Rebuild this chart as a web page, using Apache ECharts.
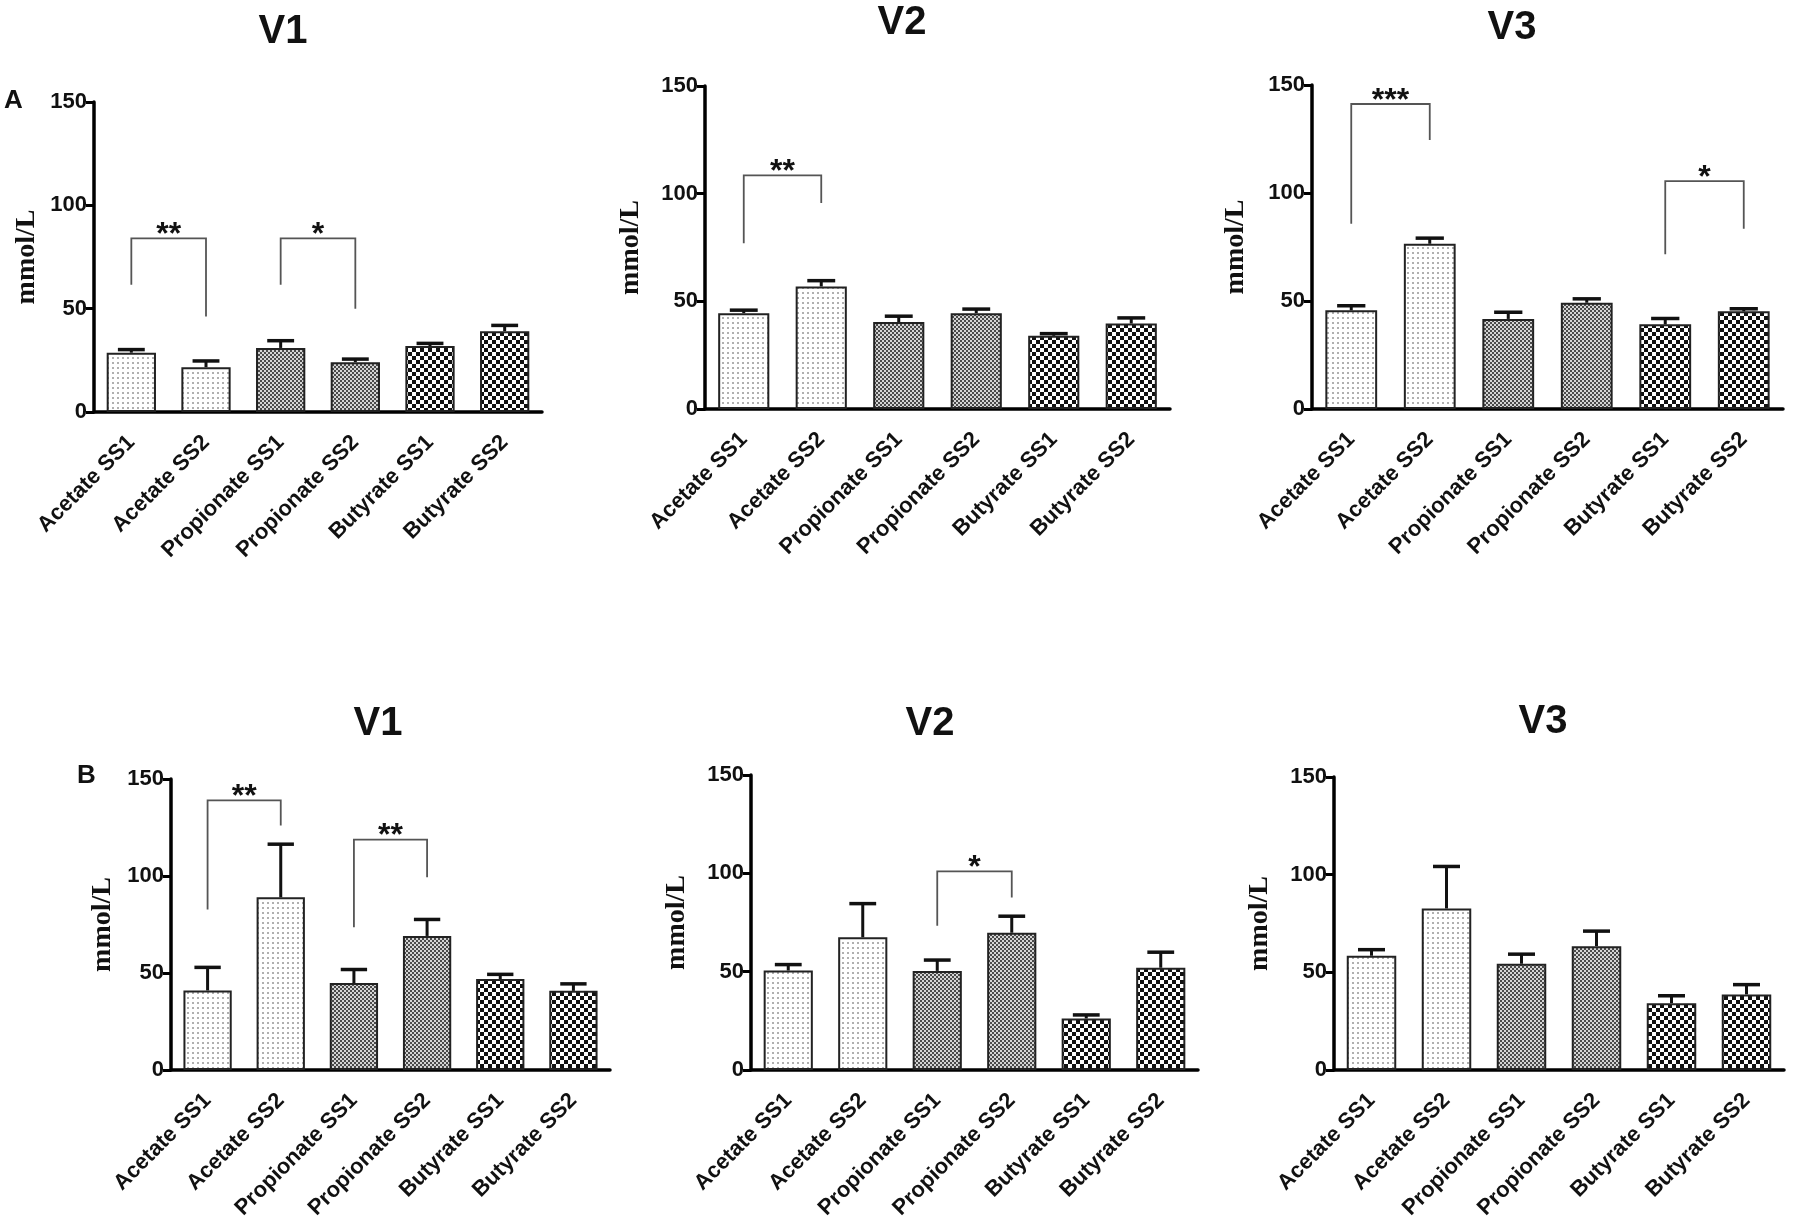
<!DOCTYPE html>
<html>
<head>
<meta charset="utf-8">
<title>SCFA V1-V3</title>
<script src="https://cdn.jsdelivr.net/npm/echarts@6.0.0/dist/echarts.min.js"></script>
<style>
html, body { margin: 0; padding: 0; background: #fff; }
#chart { width: 1800px; height: 1229px; }
</style>
</head>
<body>
<div id="chart"></div>
<script>
var categories = ['Acetate SS1', 'Acetate SS2', 'Propionate SS1', 'Propionate SS2', 'Butyrate SS1', 'Butyrate SS2']
var panelTitles = ['V1', 'V2', 'V3', 'V1', 'V2', 'V3']
var rowLetters = ['A', 'B']
var yMin = 0
var yMax = 150
var yStep = 50

// means (mmol/L) and SEM
var aV1Mean = [28.7, 21.7, 31.0, 24.1, 31.9, 39.1]
var aV1Sem = [1.5, 3.0, 3.5, 1.5, 1.3, 2.8]
var aV2Mean = [44.5, 56.9, 40.4, 44.5, 34.0, 39.7]
var aV2Sem = [1.4, 2.7, 2.7, 1.9, 1.0, 2.6]
var aV3Mean = [45.7, 76.5, 41.7, 49.2, 39.2, 45.2]
var aV3Sem = [2.1, 2.6, 3.1, 1.8, 2.7, 1.2]
var bV1Mean = [41.0, 89.0, 44.8, 69.1, 46.9, 40.8]
var bV1Sem = [11.9, 27.4, 7.0, 8.5, 2.4, 3.6]
var bV2Mean = [50.6, 67.5, 50.4, 69.8, 26.2, 52.0]
var bV2Sem = [3.0, 17.1, 5.5, 8.4, 1.8, 7.9]
var bV3Mean = [58.5, 82.7, 54.4, 63.4, 34.2, 38.7]
var bV3Sem = [3.1, 21.5, 4.9, 7.7, 3.8, 5.0]

// significance brackets: [from, to, bracket top, left leg end, right leg end]
var aV1Sig = [[0, 1, 84, 61.6, 46.2], [2, 3, 84, 61.6, 50]]
var aV1Stars = ['**', '*']
var aV2Sig = [[0, 1, 108.5, 77, 95.7]]
var aV2Stars = ['**']
var aV3Sig = [[0, 1, 141.2, 85.8, 124.5], [4, 5, 105.5, 71.7, 83.5]]
var aV3Stars = ['***', '*']
var bV1Sig = [[0, 1, 139, 82.7, 126], [2, 3, 118.8, 73.6, 99.3]]
var bV1Stars = ['**', '**']
var bV2Sig = [[2, 3, 101, 73.4, 87.7]]
var bV2Stars = ['*']
var bV3Sig = []
var bV3Stars = []

var means = [aV1Mean, aV2Mean, aV3Mean, bV1Mean, bV2Mean, bV3Mean]
var sems = [aV1Sem, aV2Sem, aV3Sem, bV1Sem, bV2Sem, bV3Sem]
var sigs = [aV1Sig, aV2Sig, aV3Sig, bV1Sig, bV2Sig, bV3Sig]
var stars = [aV1Stars, aV2Stars, aV3Stars, bV1Stars, bV2Stars, bV3Stars]

// layout (px)
var grids = [
  {left: 94, top: 102, width: 448, height: 310},
  {left: 705, top: 86, width: 465, height: 323},
  {left: 1312, top: 85, width: 471, height: 324},
  {left: 171, top: 779, width: 439, height: 291},
  {left: 751, top: 775, width: 447, height: 295},
  {left: 1334, top: 777, width: 450, height: 293}
]
var nameGaps = [53, 60, 62, 54, 60, 60]
var titlePos = [[283, 32], [902, 23], [1512, 28], [378, 724], [930, 724], [1543, 722]]
var letterPos = [[4, 101], [77, 776]]

function makePattern(size, bg, fg, cells) {
  var c = document.createElement('canvas')
  c.width = size
  c.height = size
  var ctx = c.getContext('2d')
  ctx.fillStyle = bg
  ctx.fillRect(0, 0, size, size)
  ctx.fillStyle = fg
  cells.forEach(function (r) { ctx.fillRect(r[0], r[1], r[2], r[3]) })
  return {image: c, repeat: 'repeat'}
}
var acetateFill = makePattern(5, '#ffffff', '#b0b0b0', [[2, 2, 2, 2]])
var propionateFill = makePattern(4, '#d4d4d4', '#4a4a4a', [[0, 0, 2, 2], [2, 2, 2, 2]])
var butyrateFill = makePattern(8, '#ffffff', '#111111', [[0, 0, 4, 4], [4, 4, 4, 4]])
var fills = [acetateFill, acetateFill, propionateFill, propionateFill, butyrateFill, butyrateFill]

var axisColor = '#000'
var textColor = '#111'

function renderErr(params, api) {
  var x = api.value(0)
  var base = api.coord([x, api.value(1)])
  var top = api.coord([x, api.value(2)])
  var half = api.size([1, 0])[0] * 0.18
  return {
    type: 'group',
    children: [
      {type: 'line', shape: {x1: base[0], y1: base[1], x2: top[0], y2: top[1]}, style: {stroke: '#111', lineWidth: 3}},
      {type: 'line', shape: {x1: top[0] - half, y1: top[1], x2: top[0] + half, y2: top[1]}, style: {stroke: '#111', lineWidth: 3.5}}
    ]
  }
}

function sigRenderer(labels) {
  return function (params, api) {
    var i1 = api.value(0)
    var i2 = api.value(1)
    var t1 = api.coord([i1, api.value(2)])
    var t2 = api.coord([i2, api.value(2)])
    var l = api.coord([i1, api.value(3)])
    var r = api.coord([i2, api.value(4)])
    return {
      type: 'group',
      children: [
        {type: 'polyline', shape: {points: [l, t1, t2, r]}, style: {stroke: '#555', lineWidth: 1.8, fill: 'none'}},
        {type: 'text', x: (t1[0] + t2[0]) / 2, y: t1[1] - 3, style: {
          text: labels[params.dataIndex], fill: '#111',
          fontSize: 32, fontWeight: 'bold', fontFamily: 'Liberation Sans',
          align: 'center', verticalAlign: 'middle', textAlign: 'center', textVerticalAlign: 'middle'
        }}
      ]
    }
  }
}

var option = {
  animation: false,
  backgroundColor: '#fff',
  grid: [],
  xAxis: [],
  yAxis: [],
  series: [],
  graphic: []
}

for (var p = 0; p < 6; p++) {
  option.grid.push(grids[p])
  option.xAxis.push({
    type: 'category',
    gridIndex: p,
    data: categories,
    axisLine: {lineStyle: {color: axisColor, width: 3.5}},
    axisTick: {alignWithLabel: true, length: 9, lineStyle: {color: axisColor, width: 3}},
    axisLabel: {interval: 0, rotate: 45, margin: 27, color: textColor, fontWeight: 'bold', fontSize: 22, fontFamily: 'Liberation Sans'},
    splitLine: {show: false}
  })
  option.yAxis.push({
    type: 'value',
    gridIndex: p,
    min: yMin,
    max: yMax,
    interval: yStep,
    name: 'mmol/L',
    nameLocation: 'middle',
    nameGap: nameGaps[p],
    nameTextStyle: {fontFamily: 'Liberation Serif', fontWeight: 'bold', fontSize: 28, color: textColor},
    axisLine: {show: true, lineStyle: {color: axisColor, width: 3.5}},
    axisTick: {show: true, length: 8, lineStyle: {color: axisColor, width: 3}},
    axisLabel: {margin: 7, color: textColor, fontWeight: 'bold', fontSize: 22, fontFamily: 'Liberation Sans'},
    splitLine: {show: false}
  })
  var m = means[p]
  var s = sems[p]
  option.series.push({
    type: 'bar',
    xAxisIndex: p,
    yAxisIndex: p,
    barWidth: '66%',
    itemStyle: {borderColor: '#222', borderWidth: 2},
    data: m.map(function (v, k) { return {value: v, itemStyle: {color: fills[k]}} })
  })
  option.series.push({
    type: 'custom',
    xAxisIndex: p,
    yAxisIndex: p,
    renderItem: renderErr,
    encode: {x: 0, y: [1, 2]},
    z: 5,
    data: m.map(function (v, k) { return [k, v, v + s[k]] })
  })
  if (sigs[p].length) {
    option.series.push({
      type: 'custom',
      xAxisIndex: p,
      yAxisIndex: p,
      renderItem: sigRenderer(stars[p]),
      encode: {x: [0, 1], y: [2, 3, 4]},
      clip: false,
      z: 6,
      data: sigs[p]
    })
  }
  option.graphic.push({
    type: 'text',
    x: titlePos[p][0],
    y: titlePos[p][1],
    style: {
      text: panelTitles[p], fill: '#111', font: 'bold 40px "Liberation Sans"',
      align: 'center', verticalAlign: 'middle', textAlign: 'center', textVerticalAlign: 'middle'
    }
  })
}
rowLetters.forEach(function (t, r) {
  option.graphic.push({
    type: 'text',
    x: letterPos[r][0],
    y: letterPos[r][1],
    style: {
      text: t, fill: '#111', font: 'bold 26px "Liberation Sans"',
      align: 'left', verticalAlign: 'middle', textAlign: 'left', textVerticalAlign: 'middle'
    }
  })
})

var myChart = echarts.init(document.getElementById('chart'))
myChart.setOption(option)
</script>
</body>
</html>
